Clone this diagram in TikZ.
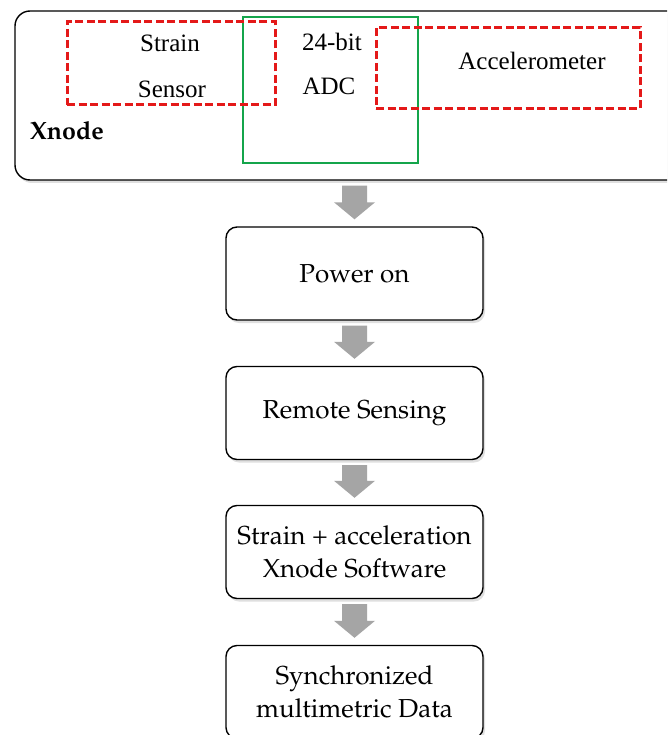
\documentclass[tikz,border=0pt]{standalone}
\usepackage[T1]{fontenc}
\usepackage{fontspec}
\newfontfamily\timesf{Liberation Serif}
\newcommand\palf{\fontencoding{T1}\fontfamily{ppl}\selectfont}
\usetikzlibrary{calc,shadows}
\definecolor{dred}{RGB}{228,25,25}
\definecolor{dgreen}{RGB}{20,165,75}
\definecolor{agray}{RGB}{165,165,165}
\tikzset{
  flowbox/.style={draw=black, line width=1.4pt, rounded corners=11pt, fill=white,
    minimum width=257pt, minimum height=93pt, align=center, inner sep=0pt,
    font=\palf\fontsize{26}{33}\selectfont,
    drop shadow={opacity=0.25, shadow xshift=2pt, shadow yshift=-3pt}},
  redbox/.style={draw=dred, dash pattern=on 8pt off 3.5pt, line width=3pt},
  greenbox/.style={draw=dgreen, line width=2.6pt},
  toptext/.style={font=\timesf\fontsize{25}{28}\selectfont, inner sep=0pt},
  garrow/.style={fill=agray, draw=none}
}
\newcommand\flowarrow[2]{%
  \fill[garrow]
    ($(#2.north |- #1.south)+(-12.5,5)$) --
    ($(#2.north |- #1.south)+(12.5,5)$) --
    ($(#2.north)+(12.5,-24)$) --
    ($(#2.north)+(20.5,-24)$) --
    ($(#2.north)+(0,-7)$) --
    ($(#2.north)+(-20.5,-24)$) --
    ($(#2.north)+(-12.5,-24)$) -- cycle;}
\begin{document}
\begin{tikzpicture}[x=1pt,y=-1pt]
\clip (0,0) rectangle (667,735);
\fill[white] (0,0) rectangle (667,735);
% outer Xnode box
\node[draw=black, line width=1.4pt, rounded corners=15pt, fill=white,
  minimum width=670pt, minimum height=169pt, inner sep=0pt,
  drop shadow={opacity=0.25, shadow xshift=2pt, shadow yshift=-3pt}] (xnode) at (350,95.5) {};
\node[font=\palf\bfseries\fontsize{25}{28}\selectfont, inner sep=0pt, anchor=west] (xlabel) at (30,131) {Xnode};
% inner boxes
\node[greenbox, minimum width=175pt, minimum height=146pt, inner sep=0pt] (adcbox) at (330.5,90) {};
\node[redbox, minimum width=208pt, minimum height=83pt, inner sep=0pt] (strainbox) at (171,63.5) {};
\node[redbox, minimum width=264pt, minimum height=81pt, inner sep=0pt] (accbox) at (508,68.5) {};
\node[toptext] (t1) at (170,43) {Strain};
\node[toptext] (t2) at (172,89) {Sensor};
\node[toptext] (t3) at (332,42) {24-bit};
\node[toptext] (t4) at (329,86) {ADC};
\node[toptext] (t5) at (532,61) {Accelerometer};
% flow boxes
\node[flowbox] (power) at (354.5,273.5) {Power on};
\node[flowbox] (remote) at (354.5,413) {Remote Sensing};
\node[flowbox] (soft) at (354.5,552) {Strain + acceleration\\Xnode Software};
\node[flowbox] (sync) at (354.5,692) {Synchronized\\multimetric Data};
% arrows
\flowarrow{xnode}{power}
\flowarrow{power}{remote}
\flowarrow{remote}{soft}
\flowarrow{soft}{sync}
\end{tikzpicture}
\end{document}
